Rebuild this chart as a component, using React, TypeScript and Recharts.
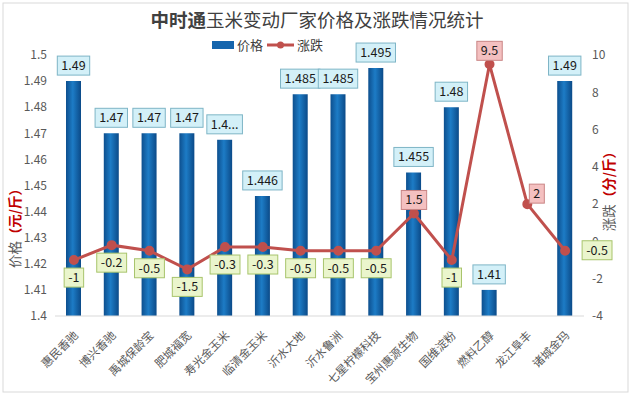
import React from "react";
import { ComposedChart, Bar, Line, XAxis, YAxis, LabelList } from "recharts";

const factories = [
  "惠民香驰", "博兴香驰", "禹城保龄宝", "肥城福宽", "寿光金玉米", "临清金玉米", "沂水大地",
  "沂水鲁洲", "七星柠檬科技", "宝州惠源生物", "国维淀粉", "燃料乙醇", "龙江阜丰", "诸城金玛",
];
const prices: (number | null)[] = [
  1.49, 1.47, 1.47, 1.47, 1.4675, 1.446, 1.485, 1.485, 1.495, 1.455, 1.48, 1.41, null, 1.49,
];
const changes = [-1, -0.2, -0.5, -1.5, -0.3, -0.3, -0.5, -0.5, -0.5, 1.5, -1, 9.5, 2, -0.5];
const priceTicks = [1.4, 1.41, 1.42, 1.43, 1.44, 1.45, 1.46, 1.47, 1.48, 1.49, 1.5];
const changeTicks = [-4, -2, 0, 2, 4, 6, 8, 10];

const data = factories.map((name, i) => ({ name, price: prices[i], change: changes[i] }));

const FONT = "'Noto Sans CJK SC', 'Noto Sans', sans-serif";
const W = 634;
const H = 397;

function textWidth(s: string) {
  let w = 0;
  for (const c of s) w += c === "." ? 3.4 : c === "-" ? 4.5 : 7;
  return w;
}

function fmtPrice(v: number) {
  const s = String(v);
  return s.length > 5 ? s.slice(0, 3) + "..." : s;
}

const BarLabel = (props: any) => {
  const { x, y, width, value } = props;
  if (value == null) return null;
  const s = fmtPrice(value);
  const bw = textWidth(s) + 8;
  const bh = 19;
  const cx = x + width / 2;
  const top = y - 6 - bh;
  return (
    <g>
      <rect x={cx - bw / 2} y={top} width={bw} height={bh} fill="#d3f0f8" stroke="#7eb5c6" strokeWidth={1} />
      <text x={cx} y={top + 14} textAnchor="middle" fontSize={12.5} fill="#1a1a1a" fontFamily={FONT}>
        {s}
      </text>
    </g>
  );
};

const LineLabel = (props: any) => {
  const { x, y, value, index } = props;
  const s = String(value);
  const bw = textWidth(s) + 8;
  const bh = 19;
  const pos = value > 0 ? 1 : 0;
  let left = x - bw / 2;
  let top = y + 8;
  if (pos) top = y - 4 - bh;
  if (index === 12) {
    left = x + 2;
    top = y - bh - 1;
  }
  if (index === changes.length - 1) {
    left = x + 17;
    top = y - 10;
  }
  return (
    <g>
      <rect
        x={left}
        y={top}
        width={bw}
        height={bh}
        fill={pos ? "#f4c0c0" : "#eaf5cc"}
        stroke={pos ? "#c98585" : "#a8c46c"}
        strokeWidth={1}
      />
      <text x={left + bw / 2} y={top + 14} textAnchor="middle" fontSize={12.5} fill="#1a1a1a" fontFamily={FONT}>
        {s}
      </text>
    </g>
  );
};

const XTick = (props: any) => {
  const { x, y, payload } = props;
  return (
    <text
      x={x + 5}
      y={y + 12}
      transform={`rotate(-45 ${x + 5} ${y + 12})`}
      textAnchor="end"
      fontSize={11.5}
      fill="#595959"
      fontFamily={FONT}
    >
      {payload.value}
    </text>
  );
};

export default function App() {
  return (
    <div style={{ position: "absolute", left: 0, top: 0, width: W, height: H, background: "#fff" }}>
      <ComposedChart
        width={W}
        height={H}
        data={data}
        margin={{ top: 55, right: 10, left: 15, bottom: 11 }}
        barCategoryGap={0}
      >
        <defs>
          <linearGradient id="barGrad" x1="0" y1="0" x2="1" y2="0">
            <stop offset="0%" stopColor="#0d4f8e" />
            <stop offset="45%" stopColor="#1d7cc6" />
            <stop offset="100%" stopColor="#0b4a88" />
          </linearGradient>
        </defs>
        <XAxis
          dataKey="name"
          interval={0}
          tick={<XTick />}
          tickLine={false}
          axisLine={{ stroke: "#d9d9d9" }}
          height={70}
        />
        <YAxis
          yAxisId="price"
          domain={[1.4, 1.5]}
          ticks={priceTicks}
          tickFormatter={(v: number) => String(Number(v.toFixed(2)))}
          tick={{ fontSize: 12, fill: "#595959", fontFamily: FONT }}
          axisLine={false}
          tickLine={false}
          width={40}
          allowDataOverflow
        />
        <YAxis
          yAxisId="change"
          orientation="right"
          domain={[-4, 10]}
          ticks={changeTicks}
          tick={{ fontSize: 12, fill: "#595959", fontFamily: FONT, textAnchor: "start" }}
          axisLine={false}
          tickLine={false}
          width={40}
        />
        <Bar yAxisId="price" dataKey="price" name="价格" fill="url(#barGrad)" barSize={15} isAnimationActive={false}>
          <LabelList dataKey="price" content={<BarLabel />} />
        </Bar>
        <Line
          yAxisId="change"
          dataKey="change"
          name="涨跌"
          stroke="#c0504d"
          strokeWidth={3}
          dot={{ r: 3.5, fill: "#c0504d", stroke: "#c0504d" }}
          isAnimationActive={false}
        >
          <LabelList dataKey="change" content={<LineLabel />} />
        </Line>
      </ComposedChart>
      <svg width={W} height={H} style={{ position: "absolute", left: 0, top: 0, pointerEvents: "none" }}>
        <rect x={3} y={3} width={625} height={389} fill="none" stroke="#d9d9d9" />
        <text x={317} y={27} textAnchor="middle" fontSize={18.5} fill="#404040" fontFamily={FONT}>
          <tspan fontWeight="bold">中时通</tspan>
          <tspan>玉米变动厂家价格及涨跌情况统计</tspan>
        </text>
        <g>
          <rect x={212} y={41} width={22} height={8} fill="#1565ad" />
          <text x={237} y={50} fontSize={13} fill="#404040" fontFamily={FONT}>价格</text>
          <line x1={267} y1={45} x2={294} y2={45} stroke="#c0504d" strokeWidth={3} />
          <circle cx={280.5} cy={45} r={3.5} fill="#c0504d" />
          <text x={297} y={50} fontSize={13} fill="#404040" fontFamily={FONT}>涨跌</text>
        </g>
        <text
          x={20}
          y={225}
          transform="rotate(-90 20 225)"
          textAnchor="middle"
          fontSize={13.5}
          fontFamily={FONT}
          fill="#595959"
        >
          <tspan>价格</tspan>
          <tspan fill="#c00000" fontWeight="bold">（元/斤）</tspan>
        </text>
        <text
          x={614}
          y={188}
          transform="rotate(-90 614 188)"
          textAnchor="middle"
          fontSize={13.5}
          fontFamily={FONT}
          fill="#595959"
        >
          <tspan>涨跌</tspan>
          <tspan fill="#c00000" fontWeight="bold">（分/斤）</tspan>
        </text>
      </svg>
    </div>
  );
}
